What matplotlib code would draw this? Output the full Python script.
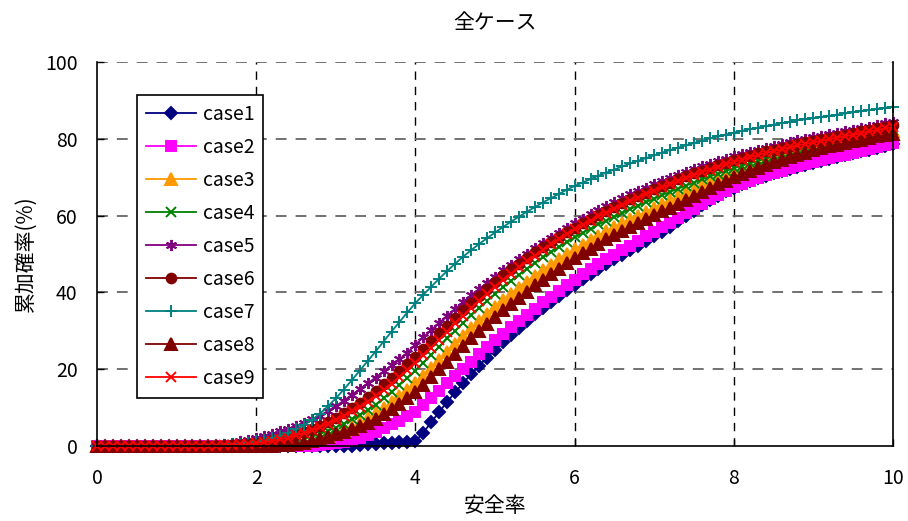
import matplotlib
matplotlib.use('Agg')
import matplotlib.pyplot as plt

plt.rcParams['font.family'] = ['Noto Sans CJK JP', 'DejaVu Sans']

# 安全率 0.0 ～ 10.0 (0.1刻み)
x = [i / 10 for i in range(101)]

case1 = [0, 0, 0, 0, 0, 0, 0, 0, 0, 0,
         0, 0, 0, 0, 0, 0, 0, 0, 0, 0,
         0, 0, 0, 0, 0, 0, 0, 0, 0, 0,
         0, 0, 0, 0.2, 0.4, 0.6, 0.8, 0.9, 1.0, 1.1,
         1.2, 3.5, 6.2, 8.9, 11.5, 14.0, 16.4, 18.7, 20.9, 23.0,
         25.0, 27.0, 28.9, 30.8, 32.6, 34.3, 36.0, 37.6, 39.1, 40.6,
         42.0, 43.4, 44.8, 46.1, 47.4, 48.6, 49.8, 51.0, 52.2, 53.4,
         54.6, 55.8, 57.1, 58.5, 59.9, 61.3, 62.7, 64.0, 65.2, 66.3,
         67.3, 68.2, 69.0, 69.7, 70.4, 71.0, 71.6, 72.2, 72.7, 73.2,
         73.7, 74.2, 74.7, 75.2, 75.7, 76.2, 76.7, 77.2, 77.7, 78.2,
         78.6]

case2 = [0, 0, 0, 0, 0, 0, 0, 0, 0, 0,
         0, 0, 0, 0, 0, 0, 0, 0, 0, 0,
         0, 0, 0, 0, 0, 0, 0, 0.1, 0.2, 0.4,
         0.7, 1.1, 1.6, 2.2, 2.9, 3.7, 4.6, 5.6, 6.6, 7.7,
         8.8, 10.6, 12.5, 14.4, 16.3, 18.2, 20.1, 22.0, 23.9, 25.7,
         27.5, 29.2, 30.9, 32.6, 34.2, 35.8, 37.4, 38.9, 40.4, 41.9,
         43.3, 44.7, 46.0, 47.3, 48.6, 49.8, 51.0, 52.2, 53.4, 54.6,
         55.8, 57.0, 58.2, 59.4, 60.6, 61.8, 63.0, 64.2, 65.3, 66.4,
         67.4, 68.3, 69.1, 69.8, 70.5, 71.1, 71.7, 72.3, 72.9, 73.4,
         73.9, 74.4, 74.9, 75.4, 75.9, 76.4, 76.9, 77.4, 77.9, 78.4,
         78.9]

case3 = [0, 0, 0, 0, 0, 0, 0, 0, 0, 0,
         0, 0, 0, 0, 0, 0, 0, 0, 0, 0,
         0, 0, 0.1, 0.2, 0.3, 0.5, 0.8, 1.2, 1.8, 2.5,
         3.3, 4.1, 5.0, 6.0, 7.2, 8.5, 9.9, 11.4, 13.0, 14.6,
         16.3, 18.3, 20.3, 22.4, 24.5, 26.6, 28.6, 30.6, 32.5, 34.4,
         36.2, 37.9, 39.6, 41.2, 42.8, 44.3, 45.8, 47.2, 48.6, 49.9,
         51.2, 52.4, 53.6, 54.8, 55.9, 57.0, 58.0, 59.0, 60.0, 61.0,
         62.0, 63.0, 64.0, 64.9, 65.8, 66.7, 67.6, 68.5, 69.4, 70.3,
         71.2, 72.0, 72.7, 73.4, 74.1, 74.8, 75.4, 76.0, 76.6, 77.2,
         77.7, 78.2, 78.7, 79.2, 79.7, 80.1, 80.5, 80.9, 81.3, 81.7,
         82.0]

case4 = [0, 0, 0, 0, 0, 0, 0, 0, 0, 0,
         0, 0, 0, 0, 0, 0, 0, 0, 0, 0,
         0.1, 0.2, 0.4, 0.6, 0.9, 1.3, 1.8, 2.4, 3.1, 3.9,
         4.8, 5.8, 6.9, 8.1, 9.4, 10.8, 12.4, 14.1, 15.9, 17.7,
         19.6, 21.7, 23.8, 25.9, 28.0, 30.0, 32.0, 34.0, 35.9, 37.8,
         39.6, 41.3, 43.0, 44.6, 46.2, 47.7, 49.1, 50.5, 51.8, 53.1,
         54.3, 55.5, 56.6, 57.7, 58.7, 59.7, 60.7, 61.7, 62.6, 63.5,
         64.4, 65.3, 66.2, 67.0, 67.8, 68.6, 69.4, 70.2, 70.9, 71.6,
         72.3, 73.0, 73.6, 74.2, 74.8, 75.4, 76.0, 76.5, 77.0, 77.5,
         78.0, 78.5, 79.0, 79.4, 79.8, 80.2, 80.6, 81.0, 81.4, 81.8,
         82.2]

case5 = [0, 0, 0, 0, 0, 0, 0, 0, 0, 0,
         0, 0, 0, 0, 0.1, 0.3, 0.5, 0.8, 1.2, 1.6,
         2.1, 2.6, 3.2, 3.8, 4.5, 5.2, 6.0, 6.9, 7.9, 9.1,
         10.4, 11.8, 13.3, 14.8, 16.3, 17.8, 19.4, 21.0, 22.6, 24.3,
         26.4, 28.3, 30.2, 32.1, 33.9, 35.7, 37.5, 39.2, 40.9, 42.5,
         44.1, 45.7, 47.2, 48.7, 50.1, 51.5, 52.9, 54.2, 55.5, 56.8,
         58.0, 59.2, 60.3, 61.4, 62.5, 63.5, 64.5, 65.5, 66.4, 67.3,
         68.2, 69.0, 69.8, 70.6, 71.4, 72.1, 72.8, 73.5, 74.2, 74.8,
         75.4, 76.0, 76.6, 77.1, 77.6, 78.1, 78.6, 79.1, 79.6, 80.0,
         80.4, 80.8, 81.2, 81.6, 82.0, 82.4, 82.8, 83.2, 83.6, 84.0,
         84.4]

case6 = [0, 0, 0, 0, 0, 0, 0, 0, 0, 0,
         0, 0, 0, 0, 0, 0, 0.1, 0.2, 0.3, 0.5,
         0.8, 1.1, 1.5, 1.9, 2.4, 3.0, 3.7, 4.5, 5.3, 6.2,
         7.4, 8.6, 9.9, 11.3, 12.8, 14.4, 16.1, 17.8, 19.6, 21.4,
         23.3, 25.3, 27.3, 29.3, 31.3, 33.3, 35.3, 37.2, 39.1, 41.0,
         42.8, 44.4, 46.0, 47.5, 49.0, 50.4, 51.8, 53.1, 54.4, 55.6,
         56.8, 58.0, 59.1, 60.2, 61.2, 62.2, 63.2, 64.2, 65.1, 66.0,
         66.9, 67.8, 68.6, 69.4, 70.2, 71.0, 71.7, 72.4, 73.1, 73.8,
         74.4, 75.0, 75.6, 76.2, 76.7, 77.2, 77.7, 78.2, 78.7, 79.1,
         79.5, 79.9, 80.3, 80.7, 81.1, 81.5, 81.9, 82.3, 82.7, 83.1,
         83.5]

case7 = [0, 0, 0, 0, 0, 0, 0, 0, 0, 0,
         0, 0, 0, 0, 0, 0.1, 0.2, 0.4, 0.6, 0.9,
         1.2, 1.6, 2.1, 2.7, 3.4, 4.3, 5.4, 6.8, 8.4, 10.3,
         12.4, 14.7, 17.1, 19.6, 22.1, 24.6, 27.2, 29.8, 32.3, 34.8,
         37.2, 39.4, 41.5, 43.6, 45.6, 47.5, 49.3, 51.0, 52.6, 54.1,
         55.6, 57.0, 58.4, 59.7, 61.0, 62.2, 63.4, 64.5, 65.6, 66.7,
         67.7, 68.6, 69.5, 70.4, 71.2, 72.0, 72.8, 73.6, 74.3, 75.0,
         75.7, 76.4, 77.1, 77.7, 78.3, 78.9, 79.5, 80.1, 80.6, 81.1,
         81.6, 82.1, 82.5, 82.9, 83.3, 83.7, 84.1, 84.4, 84.8, 85.1,
         85.4, 85.7, 86.0, 86.3, 86.6, 86.9, 87.2, 87.5, 87.8, 88.1,
         88.4]

case8 = [0, 0, 0, 0, 0, 0, 0, 0, 0, 0,
         0, 0, 0, 0, 0, 0, 0, 0, 0, 0,
         0, 0, 0.1, 0.2, 0.3, 0.5, 0.8, 1.2, 1.7, 2.3,
         3.0, 3.7, 4.4, 5.2, 6.1, 7.1, 8.3, 9.6, 11.0, 12.5,
         14.1, 16.0, 18.0, 20.0, 22.0, 24.0, 26.0, 28.0, 29.9, 31.8,
         33.6, 35.3, 37.0, 38.6, 40.2, 41.8, 43.3, 44.8, 46.2, 47.6,
         48.9, 50.2, 51.4, 52.6, 53.8, 54.9, 56.0, 57.1, 58.1, 59.1,
         60.1, 61.1, 62.1, 63.1, 64.1, 65.1, 66.1, 67.1, 68.1, 69.1,
         70.0, 70.9, 71.7, 72.5, 73.2, 73.9, 74.6, 75.2, 75.8, 76.4,
         77.0, 77.5, 78.0, 78.5, 79.0, 79.4, 79.8, 80.2, 80.6, 81.0,
         81.3]

case9 = [0, 0, 0, 0, 0, 0, 0, 0, 0, 0,
         0, 0, 0, 0, 0, 0.1, 0.2, 0.3, 0.4, 0.5,
         0.7, 1.0, 1.3, 1.7, 2.2, 2.8, 3.4, 4.1, 4.9, 5.8,
         6.8, 7.9, 9.0, 10.2, 11.5, 12.9, 14.5, 16.2, 17.9, 19.7,
         21.6, 23.6, 25.6, 27.7, 29.8, 31.9, 33.9, 35.9, 37.8, 39.7,
         41.5, 43.2, 44.9, 46.5, 48.1, 49.6, 51.1, 52.5, 53.9, 55.2,
         56.4, 57.6, 58.7, 59.8, 60.8, 61.8, 62.8, 63.8, 64.7, 65.6,
         66.5, 67.4, 68.2, 69.0, 69.8, 70.6, 71.3, 72.0, 72.7, 73.4,
         74.0, 74.6, 75.2, 75.8, 76.3, 76.8, 77.3, 77.8, 78.3, 78.7,
         79.1, 79.5, 79.9, 80.3, 80.7, 81.1, 81.5, 81.9, 82.3, 82.7,
         83.0]

series = [case1, case2, case3, case4, case5, case6, case7, case8, case9]
labels = ['case1', 'case2', 'case3', 'case4', 'case5', 'case6', 'case7', 'case8', 'case9']
colors = ['#000080', '#FF00FF', '#FF9900', '#008000', '#800080',
          '#800000', '#008080', '#800000', '#FF0000']
markers = ['D', 's', '^', 'x', (6, 2, 0), 'o', '+', '^', 'x']
msizes = [6.5, 7, 8, 7, 8, 7, 9, 8, 7]

fig = plt.figure(figsize=(9.08, 5.21), dpi=100)
ax = fig.add_axes([0.1068, 0.144, 0.8767, 0.737])

for y, lab, c, m, ms in zip(series, labels, colors, markers, msizes):
    ax.plot(x, y, color=c, marker=m, markersize=ms, markeredgewidth=1.4,
            linewidth=1.3, label=lab, clip_on=False)

ax.set_xlim(0, 10)
ax.set_ylim(0, 100)
ax.set_xticks([0, 2, 4, 6, 8, 10])
ax.set_yticks([0, 20, 40, 60, 80, 100])

# グリッド：縦は黒の破線、横は灰色の破線
for xv in [2, 4, 6, 8]:
    ax.axvline(xv, color='black', linestyle=(0, (6, 5)), linewidth=1, zorder=0)
for yv in [20, 40, 60, 80, 100]:
    ax.axhline(yv, color='#666666', linestyle=(0, (6, 5)), linewidth=1.3, zorder=0)

ax.spines['top'].set_visible(False)
for s in ['left', 'right', 'bottom']:
    ax.spines[s].set_linewidth(1.2)
    ax.spines[s].set_color('black')

ax.tick_params(direction='in', length=5, width=1, labelsize=14)
ax.tick_params(axis='x', pad=16)
ax.tick_params(axis='y', pad=14)

ax.set_title('全ケース', fontsize=15, pad=24)
ax.set_xlabel('安全率', fontsize=15, labelpad=4)
ax.set_ylabel('累加確率(%)', fontsize=15, labelpad=6)

leg = ax.legend(loc='upper left', bbox_to_anchor=(0.05, 0.914), fontsize=14,
                handlelength=2.6, labelspacing=0.62, borderpad=0.45,
                handletextpad=0.35, borderaxespad=0, fancybox=False, framealpha=1)
leg.get_frame().set_edgecolor('black')
leg.get_frame().set_linewidth(1.2)

fig.savefig('out.png', dpi=100)
